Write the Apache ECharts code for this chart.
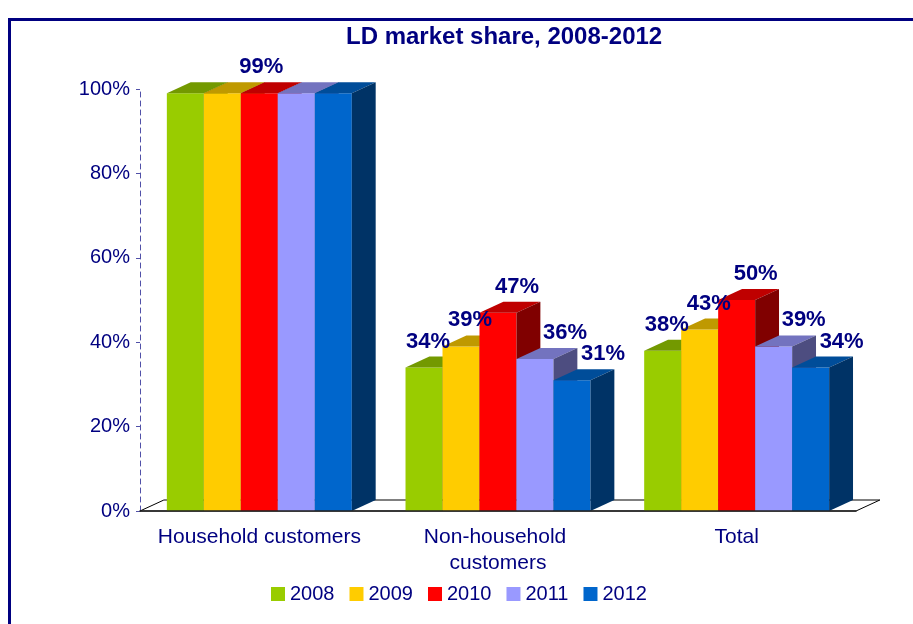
<!DOCTYPE html>
<html>
<head>
<meta charset="utf-8">
<title>LD market share, 2008-2012</title>
<script src="https://cdn.jsdelivr.net/npm/echarts@6/dist/echarts.min.js"></script>
<style>
html, body { margin: 0; padding: 0; background: #fff; }
#main { width: 913px; height: 624px; }
</style>
</head>
<body>
<div id="main"></div>
<script>
// data
var categories = ['Household customers', 'Non-household customers', 'Total'];
var years = ['2008', '2009', '2010', '2011', '2012'];
var share2008 = [99, 34, 38];
var share2009 = [99, 39, 43];
var share2010 = [99, 47, 50];
var share2011 = [99, 36, 39];
var share2012 = [99, 31, 34];
var yMin = 0, yMax = 100, yStep = 20;

var allShares = [share2008, share2009, share2010, share2011, share2012];

// look
var navy = '#000080';
var fontFam = '"Liberation Sans", Arial, sans-serif';
var frontColors = ['#99CC00', '#FFCC00', '#FF0000', '#9999FF', '#0066CC'];
var topColors = ['#739900', '#BF9900', '#BF0000', '#7373BF', '#004D99'];
var sideColors = ['#4D6600', '#806600', '#800000', '#4D4D80', '#003366'];
var labelShift = [4, 9, 19, 30, 31];
var BAR_W = 0.155;   // part of the category band
var DEPTH_X = 0.1;   // part of the category band
var DEPTH_Y = -11;   // px

function barGeom(si, params, api) {
	var cat = api.value(0);
	var val = api.value(1);
	var band = api.size([1, 0])[0];
	var bw = band * BAR_W;
	var base = api.coord([cat, 0]);
	var top = api.coord([cat, val]);
	return {
		cat: cat, val: val, bw: bw, dx: band * DEPTH_X, dy: DEPTH_Y,
		x0: base[0] - bw * years.length / 2 + si * bw,
		ty: top[1], by: base[1]
	};
}

function barRenderer(si) {
	return function (params, api) {
		var g = barGeom(si, params, api);
		var x0 = g.x0, bw = g.bw, dx = g.dx, dy = g.dy, ty = g.ty, by = g.by;
		return {
			type: 'group',
			children: [{
				type: 'rect',
				shape: { x: x0, y: ty, width: bw, height: by - ty },
				style: { fill: frontColors[si] }
			}, {
				type: 'polygon',
				shape: { points: [[x0, ty], [x0 + bw, ty], [x0 + bw + dx, ty + dy], [x0 + dx, ty + dy]] },
				style: { fill: topColors[si] }
			}, {
				type: 'polygon',
				shape: { points: [[x0 + bw, ty], [x0 + bw + dx, ty + dy], [x0 + bw + dx, by + dy], [x0 + bw, by]] },
				style: { fill: sideColors[si] }
			}]
		};
	};
}

function labelRenderer(si) {
	return function (params, api) {
		var g = barGeom(si, params, api);
		var shift = labelShift[si];
		// when all bars of a group are equal only one label is shown
		var same = allShares.every(function (s) { return s[g.cat] === g.val; });
		if (same) {
			if (si !== 2) return;
			shift = 2;
		}
		return {
			type: 'text',
			x: g.x0 + g.bw / 2 + shift,
			y: g.ty + g.dy - 4,
			style: {
				text: g.val + '%',
				fill: navy,
				fontSize: 22,
				fontWeight: 'bold',
				fontFamily: fontFam,
				align: 'center',
				verticalAlign: 'bottom'
			}
		};
	};
}

function floorRenderer(params, api) {
	var c = params.coordSys;
	var band = c.width / categories.length;
	var dx = band * DEPTH_X, dy = DEPTH_Y;
	var y = c.y + c.height;
	return {
		type: 'polygon',
		shape: { points: [[c.x, y], [c.x + c.width, y], [c.x + c.width + dx, y + dy], [c.x + dx, y + dy]] },
		style: { fill: '#fff', stroke: '#000', lineWidth: 1 }
	};
}

var series = [{
	name: 'floor',
	type: 'custom',
	silent: true,
	z: 1,
	renderItem: floorRenderer,
	data: [[0, 0]]
}];

years.forEach(function (y, si) {
	var data = allShares[si].map(function (v, i) { return [i, v]; });
	series.push({
		name: y,
		type: 'custom',
		z: 2,
		itemStyle: { color: frontColors[si] },
		renderItem: barRenderer(si),
		data: data
	});
});
years.forEach(function (y, si) {
	var data = allShares[si].map(function (v, i) { return [i, v]; });
	series.push({
		name: y,
		type: 'custom',
		silent: true,
		z: 5,
		itemStyle: { color: frontColors[si] },
		renderItem: labelRenderer(si),
		data: data
	});
});

var myChart = echarts.init(document.getElementById('main'));

var option = {
	backgroundColor: '#fff',
	animation: false,
	title: {
		text: 'LD market share, 2008-2012',
		left: 346,
		top: 25,
		padding: 0,
		textStyle: { color: navy, fontSize: 24, fontWeight: 'bold', fontFamily: fontFam }
	},
	legend: {
		data: years,
		left: 271,
		top: 584,
		padding: 0,
		icon: 'rect',
		itemWidth: 14,
		itemHeight: 14,
		itemGap: 15,
		selectedMode: false,
		textStyle: { color: navy, fontSize: 20, fontFamily: fontFam }
	},
	grid: { left: 140, right: 57, top: 89, bottom: 113 },
	xAxis: {
		type: 'category',
		data: categories,
		z: 6,
		axisLine: { lineStyle: { color: '#222', width: 1.5 } },
		axisTick: { length: 8, lineStyle: { color: '#000' } },
		axisLabel: {
			color: navy, fontSize: 21, fontFamily: fontFam,
			margin: 13, lineHeight: 26, width: 215, overflow: 'break', interval: 0
		}
	},
	yAxis: {
		type: 'value',
		min: yMin,
		max: yMax,
		interval: yStep,
		axisLine: { show: true, lineStyle: { color: '#5050A8', type: [5, 4] } },
		axisTick: { show: true, length: 4, lineStyle: { color: '#5050A8' } },
		splitLine: { show: false },
		axisLabel: { color: navy, fontSize: 20, fontFamily: fontFam, margin: 10, formatter: '{value}%' }
	},
	graphic: [{
		type: 'rect',
		z: 0,
		shape: { x: 9.5, y: 19.5, width: 960, height: 660 },
		style: { fill: 'none', stroke: navy, lineWidth: 3 }
	}],
	series: series
};

myChart.setOption(option);
</script>
</body>
</html>
